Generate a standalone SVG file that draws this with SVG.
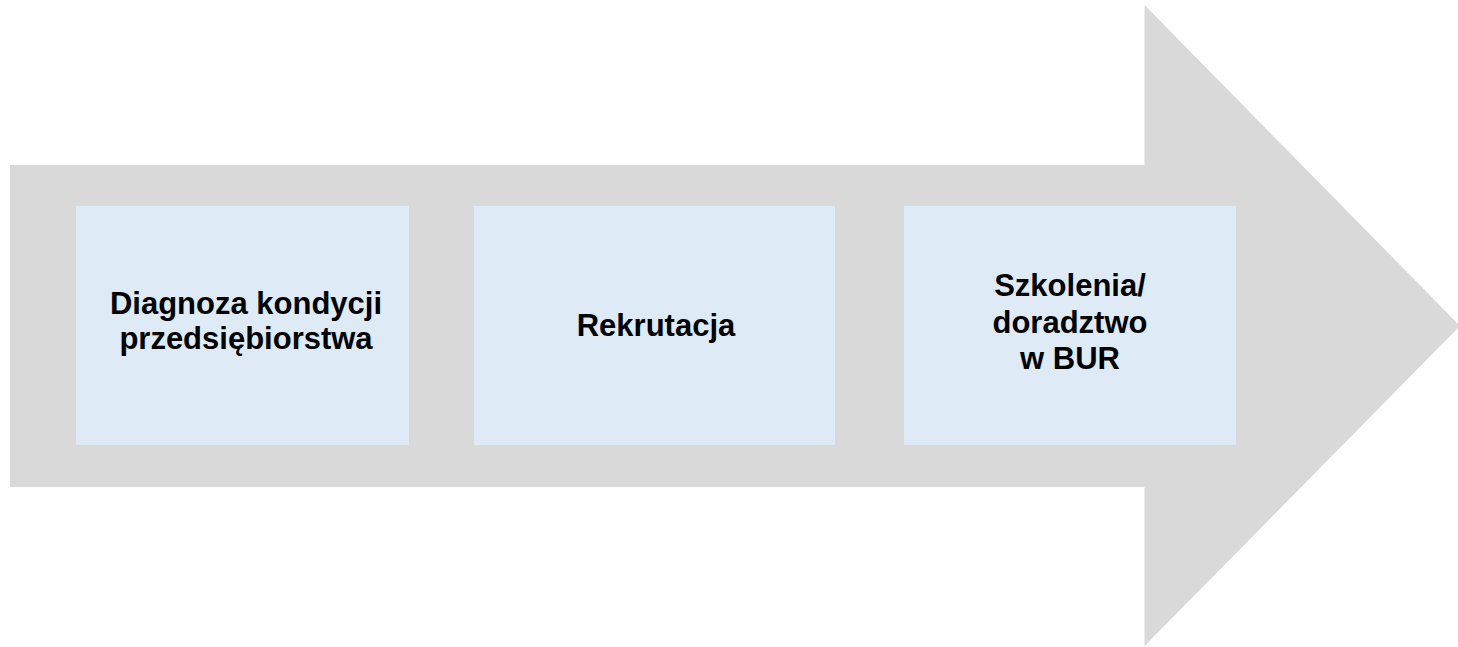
<svg xmlns="http://www.w3.org/2000/svg" width="1458" height="647" viewBox="0 0 1458 647">
  <style>
    .arrow { fill: #D9D9D9; }
    .box { fill: #DEEBF7; }
    .lbl { font-family: "Liberation Sans", Arial, sans-serif; font-weight: bold; font-size: 31px; fill: #000000; text-anchor: middle; }
  </style>
  <rect width="1458" height="647" fill="#FFFFFF"/>
  <g id="connectors">
    <polygon id="process-arrow" class="arrow" points="10,165 1144.5,165 1144.5,5 1460,326 1144.5,646 1144.5,487 10,487"/>
  </g>
  <g id="node-diagnoza">
    <rect class="box" x="76" y="206" width="333" height="239"/>
    <text class="lbl" x="246" y="314">Diagnoza kondycji</text>
    <text class="lbl" x="246" y="349">przedsiębiorstwa</text>
  </g>
  <g id="node-rekrutacja">
    <rect class="box" x="474" y="206" width="361" height="239"/>
    <text class="lbl" x="656" y="336">Rekrutacja</text>
  </g>
  <g id="node-szkolenia">
    <rect class="box" x="904" y="206" width="332" height="239"/>
    <text class="lbl" x="1070" y="296">Szkolenia/</text>
    <text class="lbl" x="1070" y="333">doradztwo</text>
    <text class="lbl" x="1070" y="369">w BUR</text>
  </g>
</svg>
